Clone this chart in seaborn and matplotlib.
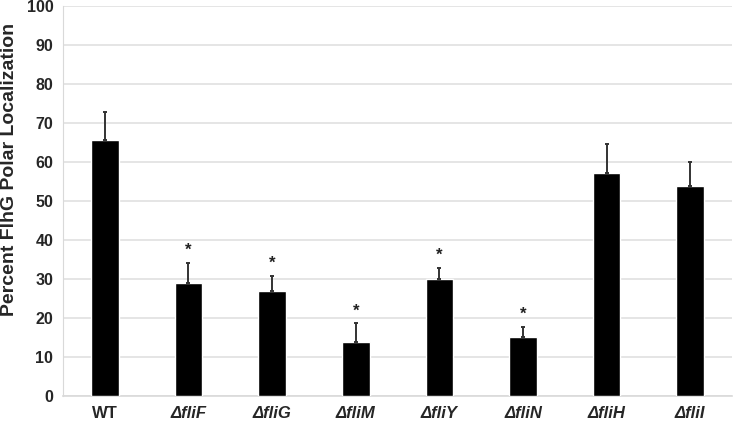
import numpy as np
import pandas as pd
import matplotlib
matplotlib.use("Agg")
import matplotlib.pyplot as plt
import seaborn as sns

strains = ["WT", "ΔfliF", "ΔfliG", "ΔfliM", "ΔfliY", "ΔfliN", "ΔfliH", "ΔfliI"]
percent = [65.5, 28.9, 26.9, 13.8, 30.0, 15.0, 57.1, 53.8]
err = [7.2, 5.3, 3.9, 4.8, 2.9, 2.8, 7.5, 6.1]
significant = [False, True, True, True, True, True, False, False]


def main():
    sns.set_style("white")
    plt.rcParams["font.family"] = ["Liberation Sans", "DejaVu Sans"]

    df = pd.DataFrame({"strain": strains, "percent": percent})

    fig = plt.figure(figsize=(7.33, 4.23), dpi=100)
    ax = fig.add_axes([0.086, 0.064, 0.9127, 0.922])

    sns.barplot(data=df, x="strain", y="percent", color="black", width=0.33,
                saturation=1, ax=ax, zorder=3)

    x = np.arange(len(strains))
    ax.errorbar(x, percent, yerr=[np.zeros(len(err)), err], fmt="none",
                ecolor="#333333", elinewidth=1.4, capsize=1.5, capthick=1.4, zorder=4)

    for i, (v, e, s) in enumerate(zip(percent, err, significant)):
        if s:
            ax.text(i, v + e + 1.3, "*", ha="center", va="bottom",
                    fontsize=12, fontweight="bold", color="#222222")

    ax.set_xlim(-0.5, len(strains) - 0.5)
    ax.set_ylim(0, 100)
    ax.set_yticks(range(0, 101, 10))
    ax.yaxis.grid(True, color="#e0e0e0", linewidth=1.2, zorder=0)
    ax.set_axisbelow(True)

    for side in ["top", "right"]:
        ax.spines[side].set_visible(False)
    ax.spines["left"].set_color("#d9d9d9")
    ax.spines["bottom"].set_color("#d9d9d9")
    ax.spines["bottom"].set_linewidth(1.2)

    ax.tick_params(axis="y", length=0, labelsize=11.5, pad=7)
    ax.tick_params(axis="x", length=0, labelsize=12, pad=7)
    for lab in ax.get_yticklabels():
        lab.set_fontweight("bold")
    for lab in ax.get_xticklabels():
        lab.set_fontweight("bold")
        if lab.get_text() != "WT":
            lab.set_fontstyle("italic")

    ax.set_xlabel("")
    ax.set_ylabel("Percent FlhG Polar Localization", fontsize=14, fontweight="bold")
    ax.yaxis.set_label_coords(-0.068, 0.58)

    fig.savefig("out.png", dpi=100)


if __name__ == "__main__":
    main()
